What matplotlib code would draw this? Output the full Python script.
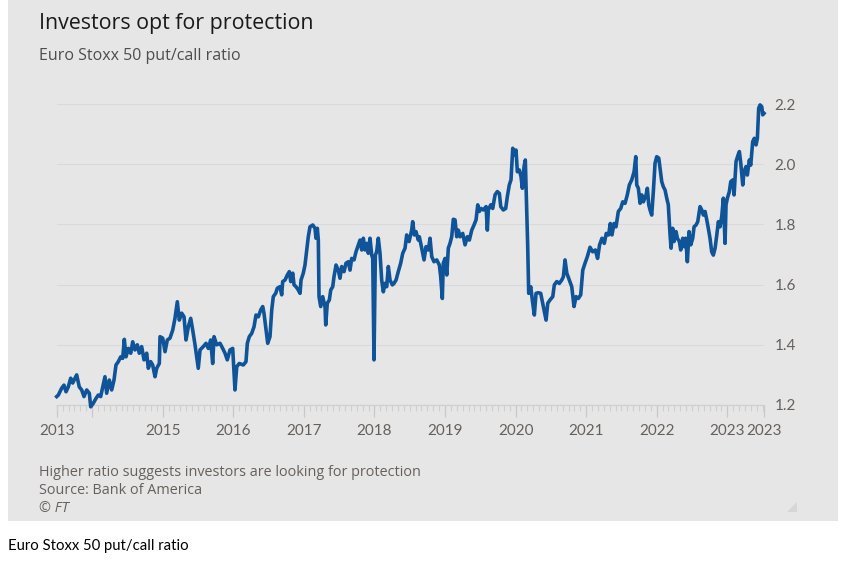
import numpy as np
import matplotlib
matplotlib.use('Agg')
import matplotlib.pyplot as plt
from matplotlib.patches import Rectangle, Polygon

# years after 2013 (decimal) and put/call ratio
year_offset = [
  0.498, 0.521, 0.569, 0.601, 0.630, 0.662, 0.696, 0.725, 0.757, 0.781,
  0.818, 0.852, 0.885, 0.923, 0.960, 0.980, 1.017, 1.055, 1.087, 1.121,
  1.150, 1.182, 1.206, 1.243, 1.277, 1.310, 1.338, 1.371, 1.405, 1.433,
  1.456, 1.480, 1.513, 1.547, 1.575, 1.607, 1.640, 1.668, 1.702, 1.735,
  1.773, 1.796, 1.830, 1.858, 1.891, 1.915, 1.952, 1.962, 2.000, 2.033,
  2.065, 2.103, 2.142, 2.174, 2.207, 2.235, 2.269, 2.302, 2.330, 2.363,
  2.397, 2.425, 2.458, 2.504, 2.529, 2.575, 2.614, 2.646, 2.680, 2.708,
  2.727, 2.765, 2.812, 2.850, 2.883, 2.915, 2.954, 2.992, 3.024, 3.049,
  3.085, 3.142, 3.180, 3.199, 3.227, 3.261, 3.294, 3.322, 3.355, 3.389,
  3.417, 3.435, 3.464, 3.488, 3.520, 3.545, 3.567, 3.601, 3.624, 3.662,
  3.686, 3.700, 3.733, 3.766, 3.794, 3.814, 3.842, 3.861, 3.889, 3.921,
  3.946, 3.960, 3.992, 4.016, 4.041, 4.063, 4.087, 4.126, 4.158, 4.172,
  4.191, 4.205, 4.215, 4.239, 4.267, 4.300, 4.310, 4.332, 4.361, 4.381,
  4.409, 4.427, 4.456, 4.488, 4.512, 4.536, 4.569, 4.597, 4.630, 4.654,
  4.678, 4.711, 4.739, 4.772, 4.796, 4.820, 4.843, 4.867, 4.891, 4.913,
  4.937, 4.962, 4.976, 4.994, 5.013, 5.032, 5.055, 5.079, 5.103, 5.126,
  5.150, 5.174, 5.197, 5.221, 5.254, 5.277, 5.306, 5.338, 5.372, 5.401,
  5.434, 5.457, 5.491, 5.528, 5.542, 5.565, 5.589, 5.622, 5.636, 5.670,
  5.703, 5.731, 5.764, 5.788, 5.812, 5.844, 5.883, 5.920, 5.939, 5.962,
  5.976, 6.001, 6.025, 6.047, 6.071, 6.095, 6.118, 6.142, 6.166, 6.189,
  6.213, 6.251, 6.284, 6.316, 6.345, 6.379, 6.411, 6.440, 6.464, 6.486,
  6.511, 6.543, 6.582, 6.600, 6.614, 6.648, 6.676, 6.709, 6.741, 6.770,
  6.790, 6.826, 6.860, 6.883, 6.911, 6.935, 6.960, 6.982, 7.006, 7.025,
  7.053, 7.077, 7.096, 7.120, 7.138, 7.158, 7.172, 7.186, 7.215, 7.243,
  7.266, 7.290, 7.322, 7.356, 7.385, 7.408, 7.432, 7.456, 7.488, 7.527,
  7.549, 7.584, 7.620, 7.654, 7.677, 7.701, 7.726, 7.762, 7.796, 7.828,
  7.857, 7.889, 7.923, 7.952, 7.984, 8.017, 8.055, 8.093, 8.130, 8.162,
  8.190, 8.224, 8.257, 8.285, 8.318, 8.342, 8.366, 8.395, 8.423, 8.456,
  8.490, 8.518, 8.551, 8.583, 8.612, 8.646, 8.679, 8.703, 8.717, 8.740,
  8.764, 8.788, 8.811, 8.849, 8.867, 8.887, 8.905, 8.929, 8.952, 8.976,
  9.000, 9.029, 9.047, 9.071, 9.094, 9.118, 9.142, 9.164, 9.189, 9.203,
  9.226, 9.245, 9.274, 9.292, 9.321, 9.340, 9.369, 9.387, 9.411, 9.434,
  9.458, 9.482, 9.510, 9.529, 9.557, 9.581, 9.614, 9.638, 9.661, 9.685,
  9.709, 9.731, 9.755, 9.779, 9.802, 9.827, 9.851, 9.873, 9.897, 9.921,
  9.944, 9.968, 9.982, 10.001, 10.029, 10.049, 10.078, 10.096, 10.124, 10.153,
  10.171, 10.191, 10.219, 10.237, 10.265, 10.284, 10.312, 10.332, 10.360, 10.383,
  10.407, 10.426, 10.445, 10.464, 10.488, 10.502, 10.520,
]
put_call = [
  1.228, 1.233, 1.256, 1.266, 1.244, 1.260, 1.289, 1.273, 1.289, 1.300,
  1.260, 1.250, 1.228, 1.250, 1.239, 1.194, 1.206, 1.222, 1.233, 1.228,
  1.260, 1.294, 1.239, 1.283, 1.250, 1.283, 1.333, 1.344, 1.360, 1.355,
  1.418, 1.360, 1.388, 1.372, 1.410, 1.383, 1.400, 1.372, 1.394, 1.350,
  1.372, 1.322, 1.344, 1.333, 1.294, 1.322, 1.338, 1.427, 1.422, 1.377,
  1.416, 1.422, 1.449, 1.488, 1.543, 1.482, 1.505, 1.493, 1.416, 1.460,
  1.488, 1.449, 1.400, 1.322, 1.383, 1.394, 1.405, 1.388, 1.416, 1.338,
  1.427, 1.400, 1.405, 1.388, 1.372, 1.350, 1.383, 1.388, 1.250, 1.327,
  1.338, 1.333, 1.344, 1.405, 1.427, 1.438, 1.460, 1.499, 1.493, 1.516,
  1.527, 1.505, 1.449, 1.405, 1.427, 1.516, 1.560, 1.571, 1.588, 1.593,
  1.566, 1.610, 1.615, 1.632, 1.643, 1.610, 1.638, 1.599, 1.593, 1.582,
  1.571, 1.615, 1.638, 1.665, 1.715, 1.759, 1.792, 1.798, 1.787, 1.754,
  1.787, 1.748, 1.560, 1.527, 1.560, 1.527, 1.466, 1.538, 1.549, 1.582,
  1.593, 1.626, 1.665, 1.648, 1.621, 1.660, 1.643, 1.671, 1.676, 1.648,
  1.687, 1.682, 1.709, 1.732, 1.748, 1.715, 1.754, 1.715, 1.737, 1.704,
  1.754, 1.698, 1.687, 1.350, 1.698, 1.709, 1.754, 1.704, 1.615, 1.576,
  1.604, 1.593, 1.660, 1.615, 1.599, 1.604, 1.615, 1.643, 1.671, 1.704,
  1.721, 1.765, 1.743, 1.781, 1.809, 1.765, 1.776, 1.748, 1.759, 1.721,
  1.682, 1.726, 1.715, 1.754, 1.693, 1.676, 1.682, 1.665, 1.626, 1.554,
  1.671, 1.687, 1.632, 1.721, 1.737, 1.759, 1.817, 1.815, 1.759, 1.781,
  1.759, 1.770, 1.732, 1.759, 1.748, 1.781, 1.798, 1.815, 1.865, 1.843,
  1.853, 1.848, 1.859, 1.781, 1.848, 1.865, 1.853, 1.898, 1.909, 1.903,
  1.859, 1.848, 1.853, 1.892, 1.931, 1.948, 2.053, 2.031, 2.047, 1.975,
  1.981, 1.959, 1.920, 1.992, 2.014, 1.848, 1.726, 1.571, 1.593, 1.538,
  1.499, 1.571, 1.573, 1.571, 1.538, 1.510, 1.482, 1.538, 1.549, 1.560,
  1.599, 1.610, 1.604, 1.615, 1.626, 1.682, 1.638, 1.615, 1.593, 1.527,
  1.560, 1.554, 1.566, 1.648, 1.671, 1.693, 1.724, 1.709, 1.715, 1.687,
  1.732, 1.754, 1.737, 1.770, 1.765, 1.803, 1.765, 1.803, 1.792, 1.843,
  1.853, 1.875, 1.870, 1.898, 1.931, 1.948, 1.975, 2.025, 1.931, 1.920,
  1.870, 1.898, 1.875, 1.898, 1.920, 1.865, 1.848, 1.831, 1.909, 2.003,
  2.025, 2.020, 1.986, 1.942, 1.925, 1.914, 1.887, 1.865, 1.765, 1.721,
  1.787, 1.743, 1.776, 1.754, 1.743, 1.715, 1.754, 1.726, 1.754, 1.676,
  1.776, 1.732, 1.754, 1.792, 1.798, 1.809, 1.859, 1.848, 1.831, 1.843,
  1.815, 1.787, 1.754, 1.709, 1.698, 1.721, 1.765, 1.809, 1.792, 1.826,
  1.887, 1.737, 1.865, 1.887, 1.909, 1.942, 1.948, 1.898, 2.009, 2.031,
  2.042, 2.003, 1.931, 1.975, 1.992, 1.964, 2.014, 1.997, 2.075, 2.086,
  2.064, 2.086, 2.186, 2.197, 2.191, 2.164, 2.169,
]
x_tick_years = [2014, 2015, 2016, 2017, 2018, 2019, 2020, 2021, 2022, 2023]
y_ticks = [1.2, 1.4, 1.6, 1.8, 2.0, 2.2]

years = 2013 + np.array(year_offset)
x_start, x_end = years[0], years[-1]

bg = '#e6e6e6'
grey_txt = '#66605c'
plt.rcParams['font.family'] = ['Open Sans', 'DejaVu Sans']

fig = plt.figure(figsize=(8.58, 5.62), dpi=100)
fig.patches.append(Rectangle((8/858, 1-521/562), 830/858, 521/562,
                             transform=fig.transFigure, facecolor=bg,
                             edgecolor='none', zorder=-10))
# little resize grip in the corner
fig.patches.append(Polygon([(787/858, 1-512/562), (797/858, 1-512/562), (797/858, 1-502/562)],
                           closed=True, transform=fig.transFigure,
                           facecolor='#d6d6d6', edgecolor='none'))

ax = fig.add_axes([56.7/858, 1-405/562, (764-56.7)/858, (405-104)/562])
ax.set_facecolor('none')
ax.plot(years, put_call, color='#0f5499', lw=2.6, solid_joinstyle='round', clip_on=False, zorder=3)

ax.set_xlim(x_start, x_end)
ax.set_ylim(1.2, 2.2)

for s in ['top', 'left', 'right']:
  ax.spines[s].set_visible(False)
ax.spines['bottom'].set_color('#cfcfcf')
ax.spines['bottom'].set_linewidth(0.9)

major = [x_start] + x_tick_years + [x_end]
labels = ['2013', ''] + [str(y) for y in x_tick_years[1:]] + ['2023']
ax.set_xticks(major)
ax.set_xticklabels(labels)
ax.set_xticks(np.arange(2013.5, x_end + 0.01, 1/12), minor=True)
ax.tick_params(axis='x', which='major', length=8.5, width=0.9, color='#c8c8c8',
               labelsize=10.5, labelcolor=grey_txt, pad=5)
ax.tick_params(axis='x', which='minor', length=4.3, width=0.8, color='#cfcfcf')
for t in ax.get_xticklabels():
  t.set_family(['Lato', 'DejaVu Sans'])
  t.set_fontsize(11)

ax.yaxis.tick_right()
ax.set_yticks(y_ticks)
ax.set_yticklabels(['%.1f' % v for v in y_ticks], family=['Lato', 'DejaVu Sans'])
ax.tick_params(axis='y', length=0, labelsize=11, labelcolor=grey_txt, pad=7.5)
ax.grid(axis='y', color='#d9d9d9', lw=0.8)
ax.set_axisbelow(True)

fig.text(39/858, 1-28.5/562, 'Investors opt for protection', fontsize=15.4,
         color='#1a1a1a', va='baseline', ha='left')
fig.text(39/858, 1-59.5/562, 'Euro Stoxx 50 put/call ratio', fontsize=11.5,
         color='#4d4d4d', va='baseline', ha='left')

fig.text(39/858, 1-476/562, 'Higher ratio suggests investors are looking for protection',
         fontsize=10.4, color=grey_txt, va='baseline', ha='left')
fig.text(39/858, 1-494/562, 'Source: Bank of America', fontsize=10.4,
         color=grey_txt, va='baseline', ha='left')
fig.text(39/858, 1-512/562, '\u00a9 FT', fontsize=10.4, style='italic',
         color=grey_txt, va='baseline', ha='left')

fig.text(8/858, 1-550/562, 'Euro Stoxx 50 put/call ratio', fontsize=10.7,
         color='black', va='baseline', ha='left', family=['Lato', 'DejaVu Sans'])

plt.savefig('out.png', dpi=100, facecolor='white')
